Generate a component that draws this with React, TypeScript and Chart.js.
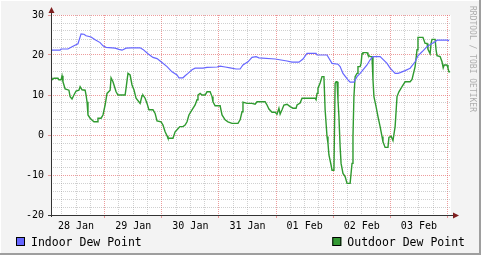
import React, { useEffect, useRef } from 'react';
import { Chart, registerables } from 'chart.js';

Chart.register(...registerables);

// ---- data (time in hours since 28 Jan 00:00) ----
const seriesNames = ['Indoor Dew Point', 'Outdoor Dew Point'];
const seriesColors = ['#6666FF', '#2F9A2F'];
const legendBoxColors = ['#6666FF', '#339933'];
const dayLabels = ['28 Jan', '29 Jan', '30 Jan', '31 Jan', '01 Feb', '02 Feb', '03 Feb'];
const dayLabelHours = [12, 36, 60, 84, 108, 132, 156];
const xTickHours = [6, 12, 18, 24, 30, 36, 42, 48, 54, 60, 66, 72, 78, 84, 90, 96, 102, 108, 114, 120, 126, 132, 138, 144, 150, 156, 162, 168];
const xMin = 1.47;
const xMax = 169.47;
const yMin = -20;
const yMax = 30;
const yStep = 2;
const watermark = 'RRDTOOL / TOBI OETIKER';

const indoorHours = [1.5, 5.3, 5.7, 8.6, 10.7, 12.8, 14.1, 15.3, 16.2, 18.3, 20.0, 22.1, 23.3, 24.6, 28.4, 30.0, 31.3, 33.0, 35.1, 38.9, 40.1, 42.2, 44.3, 46.0, 47.7, 50.2, 52.3, 54.4, 55.2, 56.9, 57.8, 59.0, 60.7, 62.0, 65.3, 67.0, 71.2, 72.5, 74.6, 76.7, 79.2, 80.9, 82.1, 84.2, 85.9, 87.6, 88.8, 95.6, 100.6, 102.7, 105.6, 107.3, 109.0, 112.8, 113.2, 117.4, 118.2, 119.5, 122.0, 122.9, 124.1, 126.2, 127.1, 128.7, 130.0, 131.3, 132.5, 134.2, 135.5, 136.7, 139.7, 140.9, 142.6, 143.9, 146.0, 147.2, 148.1, 150.2, 152.3, 154.4, 155.6, 157.3, 159.4, 161.5, 162.8, 163.6, 168.2, 168.6];
const indoorValues = [21.2, 21.2, 21.5, 21.5, 22.2, 22.8, 25.3, 25.2, 24.8, 24.5, 23.8, 23.1, 22.3, 21.9, 21.7, 21.4, 21.2, 21.7, 21.8, 21.8, 21.4, 20.3, 19.4, 19.1, 18.3, 17.1, 15.8, 15.0, 14.3, 14.3, 14.8, 15.4, 16.3, 16.7, 16.7, 16.9, 17.0, 17.2, 17.0, 16.8, 16.5, 16.5, 17.5, 18.3, 19.4, 19.6, 19.3, 19.0, 18.5, 18.2, 18.2, 19.0, 20.4, 20.4, 20.0, 20.0, 19.2, 17.9, 17.7, 17.1, 15.4, 13.8, 13.2, 13.2, 14.6, 15.4, 16.3, 17.5, 18.8, 19.6, 19.6, 18.9, 17.9, 16.7, 15.4, 15.4, 15.6, 16.1, 16.7, 18.3, 19.8, 20.8, 22.1, 22.9, 23.3, 23.7, 23.7, 23.5];

const outdoorHours = [1.5, 1.9, 2.3, 2.7, 4.4, 4.8, 5.7, 6.1, 6.5, 7.4, 9.0, 9.5, 10.3, 11.1, 12.0, 13.2, 13.7, 14.5, 15.8, 16.2, 16.6, 17.0, 17.9, 19.5, 20.8, 21.2, 22.5, 23.3, 24.2, 25.0, 26.3, 26.7, 27.5, 28.8, 29.6, 32.6, 33.0, 33.8, 34.7, 35.5, 36.3, 37.2, 38.9, 39.7, 40.1, 41.0, 41.8, 42.6, 44.3, 45.2, 46.0, 47.7, 48.5, 49.4, 50.2, 50.6, 52.7, 53.6, 54.4, 55.6, 56.9, 57.8, 58.6, 59.4, 60.7, 62.0, 62.8, 63.2, 64.1, 64.9, 66.2, 67.0, 68.3, 69.1, 69.5, 70.4, 72.5, 73.3, 74.6, 75.8, 77.5, 80.0, 80.9, 81.7, 82.1, 83.8, 85.9, 87.2, 88.0, 91.4, 92.2, 93.0, 94.3, 95.6, 96.4, 97.2, 97.7, 98.5, 99.3, 100.6, 101.9, 103.1, 104.4, 104.8, 106.1, 106.9, 112.4, 112.8, 113.2, 113.6, 114.5, 115.3, 116.1, 116.6, 117.4, 117.8, 118.2, 119.1, 119.5, 120.3, 120.8, 121.2, 121.6, 122.0, 122.4, 122.9, 123.3, 124.1, 125.0, 125.8, 127.1, 127.9, 128.3, 128.7, 129.2, 130.0, 130.4, 131.3, 131.7, 132.1, 132.5, 134.2, 134.6, 135.5, 136.3, 136.7, 137.1, 138.0, 138.8, 139.7, 140.5, 140.9, 141.8, 143.0, 143.4, 144.3, 145.1, 146.0, 146.8, 147.6, 148.9, 150.2, 152.3, 153.1, 153.5, 154.4, 155.2, 155.6, 157.7, 158.6, 159.4, 159.8, 160.7, 161.1, 161.5, 162.8, 163.2, 163.6, 164.9, 165.7, 166.2, 166.6, 167.8, 168.2, 168.6, 169.1];
const outdoorValues = [15.0, 13.8, 13.8, 14.2, 14.2, 13.8, 13.8, 14.8, 13.3, 11.5, 11.2, 9.6, 9.0, 10.0, 11.0, 11.2, 12.1, 11.3, 11.2, 10.0, 8.3, 5.0, 4.2, 3.3, 3.3, 4.2, 4.2, 5.0, 7.5, 10.4, 11.2, 14.3, 13.3, 10.8, 10.0, 10.0, 11.7, 15.4, 15.0, 12.5, 11.3, 9.2, 7.9, 9.8, 10.0, 9.2, 7.9, 6.3, 6.3, 5.4, 3.5, 3.3, 2.5, 0.8, -0.2, -0.8, -0.8, 0.8, 1.3, 2.1, 2.1, 2.5, 3.3, 5.0, 6.3, 7.5, 8.8, 10.0, 10.4, 10.0, 10.0, 10.8, 10.8, 9.6, 8.3, 7.3, 7.3, 5.0, 3.8, 3.3, 2.9, 2.9, 3.8, 5.8, 8.2, 7.9, 7.9, 7.7, 8.3, 8.3, 7.5, 6.5, 5.7, 5.7, 5.2, 6.7, 5.2, 6.3, 7.5, 7.7, 7.1, 6.7, 6.7, 7.5, 8.0, 9.2, 9.2, 8.8, 10.4, 11.7, 13.0, 14.6, 14.6, 6.3, -0.4, -2.1, -5.0, -7.5, -8.8, -8.8, 12.9, 13.3, 13.3, 8.8, 4.6, -2.9, -7.1, -9.6, -10.4, -12.1, -12.1, -7.1, -0.4, 9.6, 14.6, 15.4, 17.1, 17.1, 17.9, 20.3, 20.6, 20.6, 20.0, 19.6, 19.6, 13.8, 9.6, 7.1, 4.6, 2.1, -0.4, -1.7, -3.1, -3.1, -0.6, -0.3, -1.4, 2.1, 9.6, 10.8, 12.1, 13.3, 13.3, 13.9, 13.9, 17.1, 21.3, 24.4, 24.4, 22.9, 22.9, 21.4, 20.3, 22.9, 23.9, 23.9, 21.3, 19.8, 19.6, 18.3, 16.8, 17.5, 17.5, 16.7, 15.8, 15.8];

const MONO = '"DejaVu Sans Mono", monospace';
const MINOR_GRID = 'rgba(150,150,150,0.45)';
const MAJOR_GRID = 'rgba(225,90,90,0.6)';

const toPoints = (xs: number[], ys: number[]) => xs.map((x, i) => ({ x, y: ys[i] }));

const rrdDecor = {
  id: 'rrdDecor',
  beforeDraw(chart: any) {
    const { ctx, width, height, chartArea: a } = chart;
    ctx.save();
    ctx.fillStyle = '#F3F3F3';
    ctx.fillRect(0, 0, width, height);
    ctx.fillStyle = '#FFFFFF';
    ctx.fillRect(0, 0, width, 1);
    ctx.fillRect(0, 0, 1, height);
    ctx.fillStyle = '#9E9E9E';
    ctx.fillRect(0, height - 2, width, 2);
    ctx.fillRect(width - 2, 0, 2, height);
    ctx.fillStyle = '#FFFFFF';
    ctx.fillRect(a.left, a.top, a.right - a.left, a.bottom - a.top);
    ctx.restore();
  },
  afterDatasetsDraw(chart: any) {
    const { ctx, chartArea: a } = chart;
    ctx.save();
    ctx.strokeStyle = '#333333';
    ctx.lineWidth = 1;
    const ax = Math.round(a.left) + 0.5;
    const ay = Math.round(a.bottom) + 0.5;
    ctx.beginPath();
    ctx.moveTo(ax, a.bottom + 2);
    ctx.lineTo(ax, a.top - 4);
    ctx.moveTo(a.left - 3, ay);
    ctx.lineTo(a.right + 5, ay);
    ctx.stroke();
    ctx.fillStyle = '#7F1F1F';
    ctx.beginPath();
    ctx.moveTo(ax, a.top - 8);
    ctx.lineTo(ax - 3, a.top - 2);
    ctx.lineTo(ax + 3, a.top - 2);
    ctx.closePath();
    ctx.fill();
    ctx.beginPath();
    ctx.moveTo(a.right + 8, ay);
    ctx.lineTo(a.right + 2, ay - 3);
    ctx.lineTo(a.right + 2, ay + 3);
    ctx.closePath();
    ctx.fill();
    ctx.restore();
  },
  afterDraw(chart: any) {
    const { ctx, width } = chart;
    ctx.save();
    // legend
    ctx.font = '11.5px ' + MONO;
    ctx.textBaseline = 'alphabetic';
    ctx.textAlign = 'left';
    const boxY = 237;
    const baseY = 245.5;
    seriesNames.forEach((name, i) => {
      let textX: number;
      if (i === 0) {
        textX = 31;
      } else {
        const w = ctx.measureText(name).width;
        textX = width - 16 - w;
      }
      const bx = textX - 15;
      ctx.fillStyle = legendBoxColors[i];
      ctx.fillRect(bx, boxY, 9, 9);
      ctx.strokeStyle = '#000000';
      ctx.lineWidth = 1;
      ctx.strokeRect(bx + 0.5, boxY + 0.5, 8, 8);
      ctx.fillStyle = '#000000';
      ctx.fillText(name, textX, baseY);
    });
    // watermark
    ctx.translate(472, 59);
    ctx.rotate(Math.PI / 2);
    ctx.font = '8px ' + MONO;
    ctx.textAlign = 'center';
    ctx.textBaseline = 'middle';
    ctx.fillStyle = '#ADADAD';
    ctx.fillText(watermark, 0, 0);
    ctx.restore();
  },
};

export default function App() {
  const ref = useRef<HTMLCanvasElement | null>(null);
  useEffect(() => {
    document.body.style.margin = '0';
    const canvas = ref.current;
    if (!canvas) return;
    const chart = new Chart(canvas, {
      type: 'line',
      data: {
        datasets: [
          {
            label: seriesNames[0],
            data: toPoints(indoorHours, indoorValues),
            borderColor: seriesColors[0],
            borderWidth: 1.2,
            pointRadius: 0,
            tension: 0,
            fill: false,
          },
          {
            label: seriesNames[1],
            data: toPoints(outdoorHours, outdoorValues),
            borderColor: seriesColors[1],
            borderWidth: 1.4,
            pointRadius: 0,
            tension: 0,
            fill: false,
          },
        ],
      },
      options: {
        responsive: false,
        animation: false,
        devicePixelRatio: 1,
        parsing: true,
        layout: { padding: { top: 15, right: 30, left: 0, bottom: 0 } },
        plugins: { legend: { display: false }, tooltip: { enabled: false }, title: { display: false } },
        scales: {
          x: {
            type: 'linear',
            min: xMin,
            max: xMax,
            afterFit: (s: any) => { s.height = 40; },
            afterBuildTicks: (s: any) => { s.ticks = xTickHours.map((v) => ({ value: v })); },
            grid: {
              color: (c: any) => (c.tick && c.tick.value % 24 === 0 ? MAJOR_GRID : MINOR_GRID),
              tickColor: (c: any) => (c.tick && c.tick.value % 24 === 0 ? MAJOR_GRID : 'rgba(0,0,0,0)'),
              tickLength: 3,
              drawTicks: true,
              lineWidth: 1,
            },
            border: { display: false, dash: [1, 1] },
            ticks: {
              autoSkip: false,
              maxRotation: 0,
              padding: 2,
              color: '#000000',
              font: { family: MONO, size: 10 },
              callback: (v: any) => {
                const i = dayLabelHours.indexOf(Number(v));
                return i >= 0 ? dayLabels[i] : '';
              },
            },
          },
          y: {
            type: 'linear',
            min: yMin,
            max: yMax,
            afterFit: (s: any) => { s.width = 51; },
            grid: {
              color: (c: any) => (c.tick && c.tick.value % 10 === 0 ? MAJOR_GRID : MINOR_GRID),
              tickColor: (c: any) => (c.tick && c.tick.value % 10 === 0 ? MAJOR_GRID : 'rgba(0,0,0,0)'),
              tickLength: 3,
              drawTicks: true,
              lineWidth: 1,
            },
            border: { display: false, dash: [1, 1] },
            ticks: {
              stepSize: yStep,
              autoSkip: false,
              padding: 4,
              color: '#000000',
              font: { family: MONO, size: 10 },
              callback: (v: any) => (Number(v) % 10 === 0 ? String(v) : ''),
            },
          },
        },
      },
      plugins: [rrdDecor],
    } as any);
    return () => chart.destroy();
  }, []);
  return <canvas ref={ref} width={481} height={255} style={{ display: 'block', width: 481, height: 255 }} />;
}
